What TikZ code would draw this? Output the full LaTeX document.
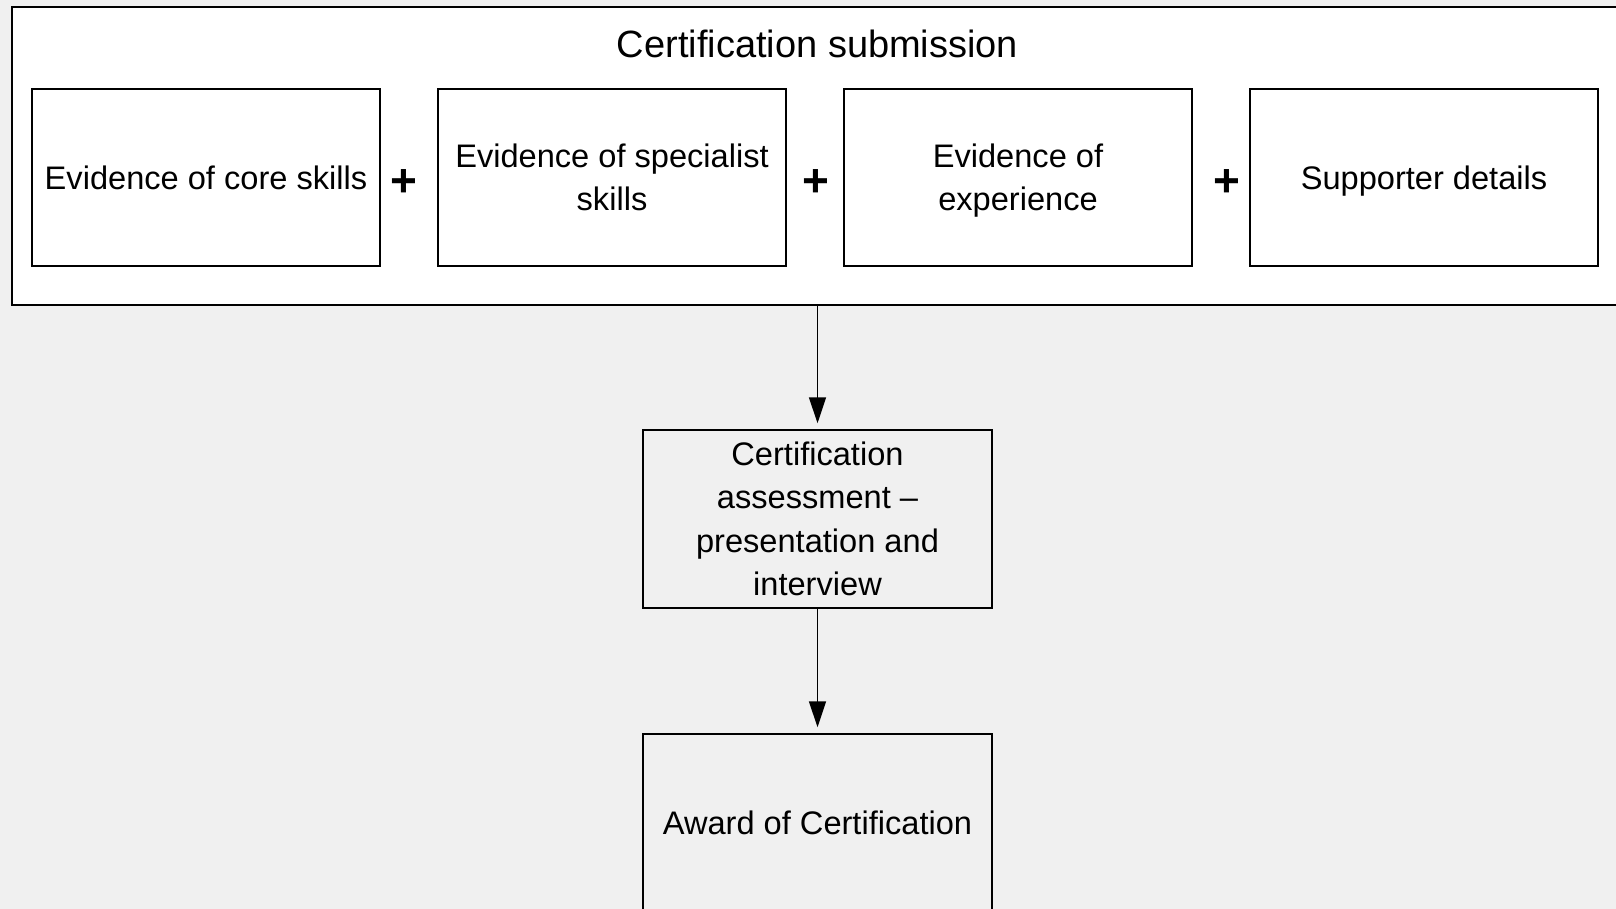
\documentclass[tikz,border=0pt]{standalone}
\usepackage{fontspec}
\setmainfont{Liberation Sans}
\usetikzlibrary{arrows.meta}
\definecolor{paper}{RGB}{240,240,240}
\newcommand\boxstrut{\rule[-10pt]{0pt}{43.4pt}}

\begin{document}
\begin{tikzpicture}
  [x=1pt,y=-1pt,line width=1.5pt,
   every node/.style={font=\fontsize{32.6}{43.4}\selectfont,align=center,inner sep=0pt},
   box/.style={draw,minimum width=348pt,minimum height=177pt,
     execute at begin node=\boxstrut,execute at end node=\boxstrut},
   multi/.style={text depth=1pt},
   plus/.style={font=\fontsize{46}{46}\selectfont\bfseries},
   flow/.style={-{Triangle[length=26pt,width=17pt]},shorten >=6pt}]
  \fill[paper] (0,0) rectangle (1616,909);
  \useasboundingbox (0,0) rectangle (1616,909);

  \node[draw,fill=white,minimum width=1611pt,minimum height=298pt] (sub) at (817.5,156) {};
  \node[font=\fontsize{38}{46}\selectfont] (title) at (817.5,44) {Certification submission};
  \node[box,fill=white] (core) at (206,177.5) {Evidence of core skills};
  \node[box,multi,fill=white] (spec) at (612,177.5) {Evidence of specialist\\skills};
  \node[box,multi,fill=white] (exp)  at (1018,177.5) {Evidence of\\experience};
  \node[box,fill=white] (supp) at (1424,177.5) {Supporter details};

  \foreach \x in {404,816,1227}
    \node[plus] (plus\x) at (\x,183.5) {+};

  \node[box,multi,minimum width=349pt,minimum height=178pt] (assess) at (817.5,519) {Certification\\assessment --\\presentation and\\interview};
  \node[box,minimum width=349pt,minimum height=178pt] (award) at (817.5,823) {Award of Certification};

  \foreach \from/\to in {sub/assess,assess/award}
    \draw[flow] (\from) -- (\to);

\end{tikzpicture}
\end{document}
